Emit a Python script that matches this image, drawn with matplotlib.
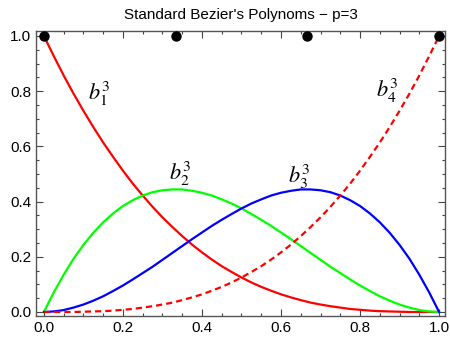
import matplotlib
matplotlib.use("Agg")
import matplotlib.pyplot as plt
from matplotlib.ticker import MultipleLocator

# parameter samples and values
t = [i / 40 for i in range(41)]
b1 = [1.0, 0.927, 0.857, 0.791, 0.729, 0.670, 0.614, 0.562, 0.512, 0.465,
      0.422, 0.381, 0.343, 0.308, 0.275, 0.244, 0.216, 0.190, 0.166, 0.145,
      0.125, 0.107, 0.091, 0.077, 0.064, 0.053, 0.043, 0.034, 0.027, 0.021,
      0.016, 0.011, 0.008, 0.005, 0.003, 0.002, 0.001, 0.0, 0.0, 0.0, 0.0]
b2 = [0.0, 0.071, 0.135, 0.193, 0.243, 0.287, 0.325, 0.357, 0.384, 0.405,
      0.422, 0.434, 0.441, 0.444, 0.444, 0.439, 0.432, 0.422, 0.408, 0.393,
      0.375, 0.355, 0.334, 0.312, 0.288, 0.264, 0.239, 0.214, 0.189, 0.164,
      0.141, 0.118, 0.096, 0.076, 0.057, 0.041, 0.027, 0.016, 0.007, 0.002, 0.0]
b3 = b2[::-1]
b4 = b1[::-1]

# control points
px = [0.0, 1 / 3, 2 / 3, 1.0]
py = [1.0, 1.0, 1.0, 1.0]

labels = [r"$b_1^3$", r"$b_2^3$", r"$b_3^3$", r"$b_4^3$"]
label_pos = [(0.14, 0.79), (0.345, 0.50), (0.645, 0.49), (0.87, 0.80)]

plt.rcParams["mathtext.fontset"] = "stix"
plt.rcParams["font.family"] = ["Liberation Sans", "DejaVu Sans"]

fig = plt.figure(figsize=(4.5, 3.43), dpi=100)
ax = fig.add_axes([36 / 450, 1 - 316 / 343, 409 / 450, 285 / 343])

ax.plot(t, b1, color="#ff0000", lw=1.6)
ax.plot(t, b2, color="#00ff00", lw=1.6)
ax.plot(t, b3, color="#0000ff", lw=1.6)
ax.plot(t, b4, color="#ff0000", lw=1.6, ls=(0, (2.8, 1.8)))
ax.plot(px, py, "o", color="black", ms=6.5, clip_on=False, zorder=5)

for s, (x, y) in zip(labels, label_pos):
    ax.text(x, y, s, fontsize=16, ha="center", va="center")

ax.set_xlim(-0.02, 1.015)
ax.set_ylim(-0.0145, 1.018)
ax.xaxis.set_major_locator(MultipleLocator(0.2))
ax.yaxis.set_major_locator(MultipleLocator(0.2))
ax.xaxis.set_minor_locator(MultipleLocator(0.05))
ax.yaxis.set_minor_locator(MultipleLocator(0.05))
ax.xaxis.set_major_formatter(lambda v, p: f"{v:.1f}")
ax.yaxis.set_major_formatter(lambda v, p: f"{v:.1f}")
ax.tick_params(which="both", direction="in", top=True, right=True,
               color="#444444", labelsize=11, width=0.8)
ax.tick_params(which="major", length=5)
ax.tick_params(which="minor", length=2.5)
for sp in ax.spines.values():
    sp.set_color("#555555")
    sp.set_linewidth(1.0)

ax.set_title("Standard Bezier's Polynoms \u2212 p=3", fontsize=11, pad=9)

fig.savefig("out.png", dpi=100)
